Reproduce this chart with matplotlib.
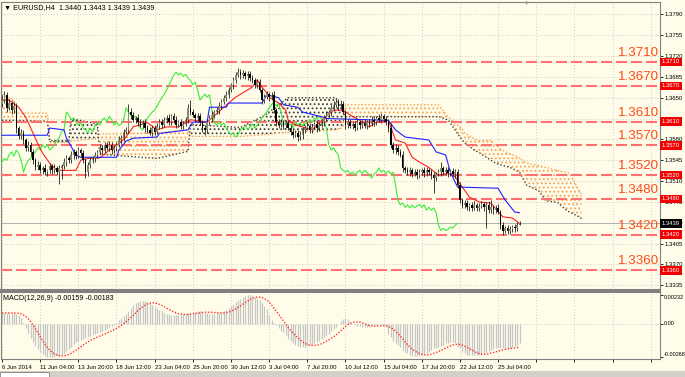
import numpy as np
import pandas as pd
import matplotlib
matplotlib.use('Agg')
import matplotlib.pyplot as plt
from matplotlib.patches import Rectangle

plt.rcParams['font.family'] = ['Liberation Sans', 'DejaVu Sans']
plt.rcParams['hatch.linewidth'] = 0.8

# ---------------- data (EURUSD H4, prices x 1e4) ----------------
open_first = 13640
close = [
    13646, 13655, 13633, 13641, 13629, 13636, 13599, 13586, 13591, 13579, 13566, 13571, 13559, 13545, 13534, 13537,
    13528, 13532, 13525, 13528, 13535, 13528, 13532, 13525, 13532, 13535, 13542, 13548, 13545, 13554, 13559, 13552,
    13562, 13557, 13545, 13525, 13537, 13545, 13548, 13554, 13559, 13566, 13562, 13571, 13566, 13571, 13562, 13566,
    13571, 13579, 13583, 13593, 13596, 13626, 13621, 13613, 13616, 13609, 13604, 13608, 13599, 13596, 13591, 13599,
    13593, 13603, 13609, 13604, 13613, 13616, 13609, 13619, 13613, 13604, 13609, 13603, 13606, 13613, 13633, 13626,
    13621, 13616, 13619, 13609, 13599, 13596, 13609, 13616, 13621, 13626, 13629, 13636, 13643, 13650, 13655, 13663,
    13671, 13679, 13688, 13693, 13688, 13691, 13686, 13689, 13683, 13679, 13672, 13676, 13663, 13646, 13651, 13656,
    13651, 13655, 13629, 13609, 13604, 13609, 13604, 13608, 13599, 13593, 13588, 13591, 13584, 13588, 13596, 13599,
    13603, 13596, 13601, 13606, 13599, 13604, 13609, 13616, 13621, 13626, 13633, 13638, 13643, 13636, 13640, 13626,
    13604, 13609, 13603, 13606, 13599, 13609, 13604, 13608, 13603, 13609, 13606, 13613, 13609, 13616, 13613, 13619,
    13614, 13609, 13599, 13571, 13562, 13566, 13559, 13554, 13532, 13528, 13525, 13528, 13522, 13525, 13520, 13525,
    13528, 13523, 13528, 13525, 13520, 13515, 13522, 13525, 13532, 13525, 13528, 13523, 13527, 13522, 13525, 13503,
    13478, 13470, 13473, 13466, 13470, 13465, 13470, 13465, 13468, 13471, 13466, 13470, 13461, 13466, 13461, 13465,
    13458, 13436, 13427, 13431, 13427, 13429, 13433, 13431, 13436, 13439,
]
# wick lengths above / below the body, in pips
wick_up = [
    8, 6, 5, 6, 4, 7, 5, 4, 6, 5, 4, 6, 4, 5, 3, 6,
    5, 4, 6, 3, 5, 4, 6, 3, 5, 4, 6, 5, 4, 7, 5, 4,
    6, 4, 5, 3, 5, 6, 4, 5, 3, 6, 5, 4, 5, 6, 4, 5,
    4, 6, 5, 4, 5, 14, 6, 5, 4, 6, 5, 4, 6, 5, 4, 5,
    6, 4, 5, 6, 4, 5, 6, 4, 5, 6, 4, 5, 5, 4, 6, 13,
    5, 4, 6, 5, 4, 6, 4, 5, 6, 4, 5, 6, 5, 4, 6, 5,
    4, 6, 5, 7, 5, 6, 4, 5, 6, 5, 4, 6, 5, 4, 6, 5,
    4, 5, 6, 4, 5, 6, 4, 5, 4, 6, 5, 4, 5, 6, 4, 5,
    6, 4, 5, 4, 6, 5, 4, 5, 6, 4, 5, 6, 5, 4, 6, 5,
    4, 6, 5, 4, 5, 6, 4, 5, 6, 4, 5, 6, 5, 4, 6, 5,
    4, 6, 5, 8, 5, 6, 4, 5, 6, 4, 5, 6, 4, 5, 6, 5,
    4, 6, 5, 4, 5, 6, 4, 5, 10, 4, 5, 6, 4, 5, 6, 5,
    6, 4, 5, 6, 4, 5, 6, 4, 5, 6, 4, 5, 6, 12, 4, 5,
    6, 4, 5, 4, 5, 6, 4, 5, 6, 4,
]
wick_dn = [
    6, 5, 7, 4, 6, 5, 8, 6, 5, 7, 6, 5, 7, 6, 5, 6,
    5, 6, 4, 7, 5, 6, 5, 4, 20, 18, 5, 6, 4, 5, 7, 5,
    4, 6, 5, 10, 6, 5, 4, 6, 5, 4, 6, 5, 4, 5, 6, 4,
    5, 4, 6, 5, 4, 5, 6, 4, 5, 6, 4, 5, 6, 5, 4, 6,
    5, 4, 6, 5, 4, 6, 5, 4, 6, 5, 4, 6, 5, 4, 6, 5,
    4, 6, 5, 4, 6, 8, 5, 4, 6, 5, 4, 6, 5, 4, 6, 5,
    4, 6, 5, 4, 6, 5, 4, 6, 5, 4, 6, 5, 4, 6, 5, 4,
    6, 5, 4, 6, 5, 4, 6, 5, 4, 6, 5, 4, 6, 5, 8, 5,
    4, 6, 5, 4, 6, 5, 4, 6, 5, 4, 6, 5, 4, 6, 5, 4,
    6, 5, 4, 6, 5, 4, 6, 5, 4, 6, 5, 4, 6, 5, 4, 6,
    5, 4, 6, 5, 4, 6, 5, 4, 6, 5, 4, 6, 5, 4, 6, 5,
    4, 6, 5, 4, 6, 25, 5, 4, 6, 5, 4, 6, 5, 4, 6, 5,
    4, 6, 5, 4, 6, 5, 4, 6, 5, 4, 6, 35, 5, 4, 6, 5,
    4, 6, 8, 4, 6, 5, 4, 6, 5, 0,
]

# Ichimoku lines (bar index, price x 1e4)
tenkan_i = [0, 3, 7, 10, 15, 17, 20, 23, 31, 33, 36, 41, 45, 49, 52, 55, 61, 65, 69, 74,
            79, 86, 95, 98, 103, 105, 107, 109, 111, 112, 116, 119, 120, 123, 126, 130, 134, 139, 143, 146,
            150, 154, 157, 162, 165, 169, 172, 175, 179, 183, 187, 190, 193, 196, 200, 205, 210, 214, 217]
tenkan_p = [13646, 13646, 13634, 13617, 13573, 13557, 13540, 13528, 13528, 13545, 13548, 13549, 13562, 13573, 13584, 13601, 13608, 13596, 13601, 13601,
            13613, 13609, 13641, 13651, 13663, 13668, 13680, 13668, 13658, 13651, 13641, 13629, 13612, 13604, 13601, 13596, 13612, 13629, 13629, 13621,
            13612, 13601, 13609, 13612, 13579, 13574, 13550, 13542, 13533, 13520, 13523, 13517, 13500, 13483, 13475, 13473, 13450, 13448, 13439]
kijun_i = [0, 19, 20, 26, 27, 31, 33, 48, 49, 52, 55, 65, 66, 78, 80, 86, 87, 94, 95, 109,
           111, 116, 118, 124, 126, 134, 136, 162, 165, 169, 179, 182, 186, 188, 191, 208, 211, 215, 217]
kijun_p = [13587, 13587, 13599, 13596, 13582, 13554, 13550, 13550, 13562, 13577, 13582, 13584, 13590, 13596, 13609, 13609, 13634, 13634, 13641, 13641,
           13655, 13650, 13638, 13634, 13626, 13618, 13615, 13612, 13596, 13584, 13579, 13559, 13554, 13525, 13500, 13498, 13478, 13458, 13457]
cloud_i = [0, 5, 6, 19, 20, 28, 29, 40, 41, 65, 78, 79, 100, 110, 120, 140, 143, 144, 183, 187,
           192, 194, 198, 200, 205, 207, 211, 213, 217, 220, 225, 228, 233, 237, 238, 242, 243]
span_a = [13612, 13612, 13612, 13610, 13578, 13578, 13615, 13606, 13555, 13548, 13560, 13605, 13600, 13620, 13650, 13650, 13625, 13618, 13618, 13613,
          13584, 13574, 13562, 13558, 13545, 13540, 13535, 13533, 13525, 13503, 13494, 13477, 13474, 13460, 13458, 13450, 13447]
span_b = [13655, 13646, 13624, 13624, 13575, 13575, 13577, 13582, 13589, 13591, 13596, 13585, 13585, 13588, 13592, 13596, 13600, 13638, 13638, 13618,
          13601, 13591, 13581, 13578, 13579, 13570, 13559, 13556, 13549, 13540, 13536, 13533, 13528, 13524, 13523, 13494, 13489]

# MACD(12,26,9) main line per bar, x 1e-5
macd_main = [
    86, 88, 88, 87, 86, 84, 80, 72, 45, 5, -35, -75, -115, -150, -180, -208,
    -230, -245, -258, -266, -268, -268, -266, -263, -258, -250, -238, -222, -205, -185, -165, -150,
    -138, -130, -122, -115, -110, -102, -95, -86, -76, -67, -58, -49, -40, -30, -18, -8,
    2, 30, 48, 65, 82, 105, 128, 150, 165, 175, 180, 182, 182, 178, 165, 150,
    138, 124, 110, 100, 90, 80, 75, 71, 70, 70, 70, 73, 77, 80, 85, 90,
    95, 98, 100, 100, 96, 90, 86, 82, 80, 82, 84, 86, 92, 100, 110, 125,
    145, 160, 175, 190, 200, 212, 222, 228, 232, 228, 215, 200, 190, 170, 145, 120,
    70, 30, 5, -13, -35, -55, -70, -95, -120, -140, -155, -170, -180, -187, -190, -188,
    -180, -170, -162, -155, -150, -140, -120, -108, -95, -80, -62, -45, -27, -5, 20, 40,
    50, 35, 16, 0, -10, -16, -20, -24, -25, -24, -24, -20, -14, -10, -6, -3,
    -12, -24, -80, -110, -140, -160, -175, -190, -210, -225, -240, -252, -260, -262, -262, -260,
    -255, -248, -240, -225, -210, -200, -195, -190, -180, -170, -160, -155, -150, -150, -160, -185,
    -200, -230, -240, -250, -252, -250, -250, -250, -250, -245, -238, -230, -220, -210, -205, -200,
    -200, -200, -200, -200, -198, -195, -190, -180, -170, -159,
]

levels = [1.3710, 1.3670, 1.3610, 1.3570, 1.3520, 1.3480, 1.3420, 1.3360]
last_price = 1.3439
price_ticks = [1.3790, 1.3755, 1.3720, 1.3685, 1.3650, 1.3615, 1.3580,
               1.3545, 1.3510, 1.3475, 1.3440, 1.3405, 1.3370, 1.3335]
macd_ticks = [0.00232, 0.0, -0.00268]
macd_tick_labels = ['0.00232', '0.00', '-0.00268']
time_labels = ['6 Jun 2014', '11 Jun 04:00', '13 Jun 20:00', '18 Jun 12:00', '23 Jun 04:00',
               '25 Jun 20:00', '30 Jun 12:00', '3 Jul 04:00', '7 Jul 20:00', '10 Jul 12:00',
               '15 Jul 04:00', '17 Jul 20:00', '22 Jul 12:00', '25 Jul 04:00']

# ---------------- layout ----------------
W, H = 685, 377
BG = '#FFFDE9'
fig = plt.figure(figsize=(W / 100, H / 100), dpi=100, facecolor=BG)


def box(l, t, r, b):
    return [l / W, 1 - b / H, (r - l) / W, (b - t) / H]


ax = fig.add_axes(box(1, 2, 660, 290), facecolor=BG)
ax2 = fig.add_axes(box(1, 292, 660, 359), facecolor=BG)

c = np.array(close) / 1e4
o = np.r_[open_first / 1e4, c[:-1]]
hi = np.maximum(o, c) + np.array(wick_up) / 1e4
lo = np.minimum(o, c) - np.array(wick_dn) / 1e4
idx = np.arange(len(c))
bull = c >= o

# cloud
ci = np.array(cloud_i)
sa = np.array(span_a) / 1e4
sb = np.array(span_b) / 1e4
ax.fill_between(ci, sa, sb, where=sb >= sa, interpolate=True, facecolor='none',
                edgecolor='#F7A24F', hatch='....', linewidth=0, zorder=1)
ax.fill_between(ci, sa, sb, where=sa > sb, interpolate=True, facecolor='none',
                edgecolor='#404040', hatch='....', linewidth=0, zorder=1)
ax.plot(ci, sb, color='#F7A24F', ls=(0, (1, 1.5)), lw=1.0, zorder=2)
ax.plot(ci, sa, color='#404040', ls=(0, (1, 1.5)), lw=1.0, zorder=2)

# levels
for lv in levels:
    ax.axhline(lv, color='#FF7070', lw=1.5, dashes=(5.3, 1.9), zorder=3)
    ax.annotate(f'{lv:.4f}', xy=(1.0, lv), xycoords=('axes fraction', 'data'),
                xytext=(-1, 3), textcoords='offset pixels', ha='right', va='bottom',
                fontsize=9.6, color='#FF4A1C', zorder=6)
    ax.annotate(f'{lv:.4f}', xy=(1.0, lv), xycoords=('axes fraction', 'data'),
                xytext=(2, 0), textcoords='offset pixels', ha='left', va='center',
                fontsize=4.2, color='white', annotation_clip=False, zorder=8,
                bbox=dict(boxstyle='square,pad=0.3', fc='#F00000', ec='none'))
ax.axhline(last_price, color='#A8A8A8', lw=0.6, zorder=2)
ax.annotate(f'{last_price:.4f}', xy=(1.0, last_price), xycoords=('axes fraction', 'data'),
            xytext=(2, 0), textcoords='offset pixels', ha='left', va='center',
            fontsize=4.2, color='white', annotation_clip=False, zorder=8,
            bbox=dict(boxstyle='square,pad=0.3', fc='black', ec='none'))

# ichimoku lines
ax.plot(idx - 26, c, color='#3CEB3C', lw=0.8, zorder=3)
ax.plot(tenkan_i, np.array(tenkan_p) / 1e4, color='#FF2020', lw=0.8, zorder=3)
ax.plot(kijun_i, np.array(kijun_p) / 1e4, color='#2020FF', lw=0.8, zorder=3)

# candles
ax.vlines(idx, lo, hi, color='#202020', lw=0.6, zorder=4)
ax.bar(idx, np.maximum(np.abs(c - o), 0.00003), bottom=np.minimum(o, c), width=0.65,
       color=np.where(bull, '#858a72', '#000000'), linewidth=0, zorder=5)

PX = 5957.0
ax.set_ylim(1.3790 - (290 - 14.3) / PX, 1.3790 + (14.3 - 2) / PX)
xmin, xmax = -1 / 2.385, 658 / 2.385
grid_x = np.arange(0, 280, 16)
for a in (ax, ax2):
    a.set_xlim(xmin, xmax)
    a.set_xticks(grid_x)
    a.grid(True, axis='x', color='#BDBDBD', lw=0.6, ls=(0, (1, 2.5)))
    for s in a.spines.values():
        s.set_color('#808080')
        s.set_linewidth(0.8)
ax.grid(True, axis='y', color='#BDBDBD', lw=0.6, ls=(0, (1, 2.5)))
ax.spines['bottom'].set_linewidth(1.5)
ax2.spines['top'].set_linewidth(1.5)

ax.yaxis.tick_right()
ax.set_yticks(price_ticks)
ax.set_yticklabels([f'{p:.4f}' for p in price_ticks])
ax.tick_params(axis='y', length=2, width=0.6, pad=1, labelsize=4.3, colors='black')
ax.tick_params(axis='x', length=0, labelbottom=False)

# MACD
m = np.array(macd_main) / 1e5
signal = pd.Series(m).rolling(9, min_periods=1).mean()
ax2.vlines(idx, 0, m, color='#C6C6C6', lw=0.9, zorder=2)
ax2.plot(idx, signal, color='#FF3030', lw=1.0, ls=(0, (1, 1.2)), zorder=3)
ax2.axhline(0, color='#BDBDBD', lw=0.6, ls=(0, (1, 2.5)))
ax2.set_ylim(-(359 - 323.7) / 12370, 0.00232 + 3 / 12370)
ax2.yaxis.tick_right()
ax2.set_yticks(macd_ticks)
ax2.set_yticklabels(macd_tick_labels)
ax2.tick_params(axis='y', length=2, width=0.6, pad=1, labelsize=4.0, colors='black')
for lbl, va in zip(ax2.get_yticklabels(), ['top', 'center', 'bottom']):
    lbl.set_verticalalignment(va)
ax2.set_xticklabels(time_labels + [''] * (len(grid_x) - len(time_labels)))
ax2.tick_params(axis='x', length=2, width=0.6, pad=2, labelsize=4.3, colors='black')
for lbl in ax2.get_xticklabels():
    lbl.set_horizontalalignment('left')

# captions
fig.text(4 / W, 1 - 8 / H, '\u25bc EURUSD,H4  1.3440 1.3443 1.3439 1.3439',
         fontsize=5.2, va='center', ha='left', color='black')
fig.text(3 / W, 1 - 298 / H, 'MACD(12,26,9) -0.00159 -0.00183',
         fontsize=5.1, va='center', ha='left', color='black')
fig.text(527 / W, 1 - 3 / H, '\u25bc', fontsize=4, color='#909090', ha='center', va='center')

# bottom tab strip
fig.patches.append(Rectangle((0, 0), 1, 6 / H, transform=fig.transFigure,
                             facecolor='#D4D0C8', edgecolor='none'))
fig.patches.append(Rectangle((0, 0), 49 / W, 5 / H, transform=fig.transFigure,
                             facecolor='white', edgecolor='#808080', lw=0.6))

fig.savefig('out.png', dpi=100, facecolor=BG)
